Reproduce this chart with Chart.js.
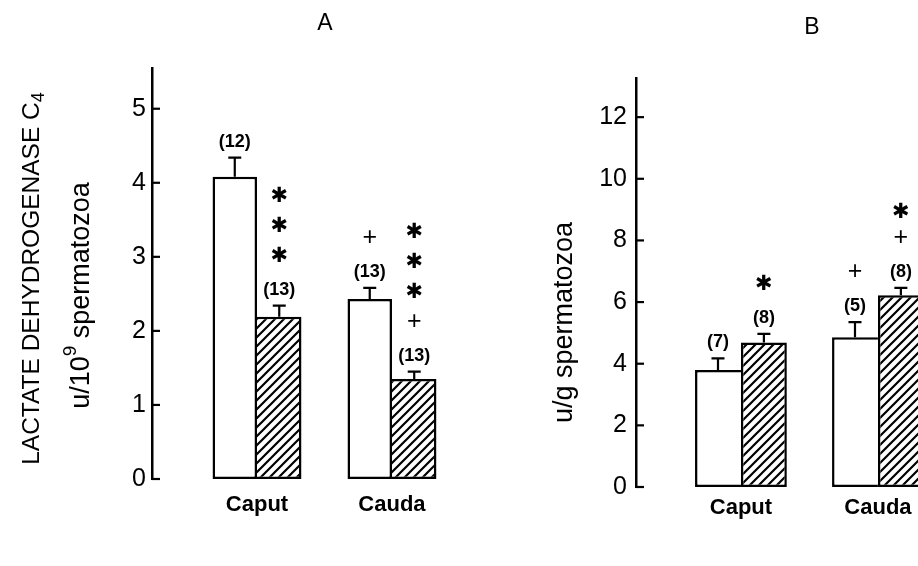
<!DOCTYPE html>
<html><head><meta charset="utf-8">
<script src="https://cdn.jsdelivr.net/npm/chart.js@4.4.1/dist/chart.umd.min.js"></script>
<style>
html,body{margin:0;padding:0;background:#fff;overflow:hidden;width:918px;height:566px;}
#wrap{position:relative;width:918px;height:566px;overflow:hidden;background:#fff;}
#cA{position:absolute;left:0;top:0;}
#cB{position:absolute;left:470px;top:0;}
</style></head><body>
<div id="wrap"><canvas id="cA" width="470" height="566"></canvas><canvas id="cB" width="490" height="566"></canvas></div>
<script>
// ---- data ----
const categories = ['Caput', 'Cauda'];
const categoryPos = [1, 2];

// Panel A: LDH-C4 per 10^9 spermatozoa
const ticksA = [0, 1, 2, 3, 4, 5];
const controlA = [4.08, 2.43];
const controlErrA = [0.26, 0.15];
const treatedA = [2.19, 1.35];
const treatedErrA = [0.15, 0.10];
const nControlA = ['(12)', '(13)'];
const nTreatedA = ['(13)', '(13)'];
const marksControlA = [[], ['+']];
const marksTreatedA = [['✱', '✱', '✱'], ['+', '✱', '✱', '✱']];
const titleA1 = [['LACTATE DEHYDROGENASE C', ''], ['4', 'sub']];
const titleA2 = [['u/10', ''], ['9', 'sup'], [' spermatozoa', '']];

// Panel B: u/g spermatozoa
const ticksB = [0, 2, 4, 6, 8, 10, 12];
const controlB = [3.80, 4.86];
const controlErrB = [0.37, 0.49];
const treatedB = [4.69, 6.22];
const treatedErrB = [0.28, 0.24];
const nControlB = ['(7)', '(5)'];
const nTreatedB = ['(8)', '(8)'];
const marksControlB = [[], ['+']];
const marksTreatedB = [['✱'], ['+', '✱']];
const titleB1 = [['u/g spermatozoa', '']];

// ---- helpers ----
function hatchPattern() {
  const s = 9;
  const c = document.createElement('canvas');
  c.width = s; c.height = s;
  const g = c.getContext('2d');
  g.fillStyle = '#fff'; g.fillRect(0, 0, s, s);
  g.strokeStyle = '#000'; g.lineWidth = 2.2;
  g.beginPath();
  g.moveTo(-1, s + 1); g.lineTo(s + 1, -1);
  g.moveTo(-2, 2); g.lineTo(2, -2);
  g.moveTo(s - 2, s + 2); g.lineTo(s + 2, s - 2);
  g.stroke();
  return g.createPattern(c, 'repeat');
}
const hatch = hatchPattern();

function drawRichVertical(ctx, parts, x, y, size) {
  ctx.save();
  ctx.translate(x, y);
  ctx.rotate(-Math.PI / 2);
  ctx.fillStyle = '#000';
  ctx.textBaseline = 'middle';
  ctx.textAlign = 'left';
  const fontFor = k => (k ? Math.round(size * 0.72) : size) + 'px "Liberation Sans"';
  let total = 0;
  parts.forEach(([t, k]) => { ctx.font = fontFor(k); total += ctx.measureText(t).width; });
  let cx = -total / 2;
  parts.forEach(([t, k]) => {
    ctx.font = fontFor(k);
    const dy = k === 'sub' ? size * 0.3 : (k === 'sup' ? -size * 0.4 : 0);
    ctx.fillText(t, cx, dy);
    cx += ctx.measureText(t).width;
  });
  ctx.restore();
}

const barPlugin = {
  id: 'barDecor',
  afterDatasetsDraw(chart, args, opts) {
    const ctx = chart.ctx, ys = chart.scales.y;
    chart.data.datasets.forEach((ds, di) => {
      const meta = chart.getDatasetMeta(di);
      meta.data.forEach((el, i) => {
        const v = ds.data[i].y, e = ds.errors[i];
        const yb = ys.getPixelForValue(v), yt = ys.getPixelForValue(v + e);
        ctx.save();
        ctx.strokeStyle = '#000'; ctx.lineWidth = 2.2;
        ctx.beginPath();
        ctx.moveTo(el.x, yb); ctx.lineTo(el.x, yt);
        ctx.moveTo(el.x - 6.5, yt); ctx.lineTo(el.x + 6.5, yt);
        ctx.stroke();
        ctx.fillStyle = '#000'; ctx.textAlign = 'center'; ctx.textBaseline = 'middle';
        let y = yt - opts.firstGap;
        ctx.font = 'bold 18px "Liberation Sans"';
        ctx.fillText(ds.counts[i], el.x, y);
        y -= opts.markGap0;
        ds.marks[i].forEach(m => {
          ctx.font = m === '+' ? '25px "Liberation Sans"' : '21px "DejaVu Sans"';
          ctx.fillText(m, el.x, m === '+' ? y - 1 : y);
          y -= opts.markGap;
        });
        ctx.restore();
      });
    });
  },
  afterDraw(chart, args, opts) {
    const ctx = chart.ctx, ys = chart.scales.y, area = chart.chartArea;
    ctx.save();
    ctx.strokeStyle = '#000'; ctx.lineWidth = 2.2;
    ys.ticks.forEach(t => {
      const y = ys.getPixelForValue(t.value);
      ctx.beginPath(); ctx.moveTo(area.left, y); ctx.lineTo(area.left + 8, y); ctx.stroke();
    });
    ctx.fillStyle = '#000'; ctx.font = '23px "Liberation Sans"';
    ctx.textAlign = 'center'; ctx.textBaseline = 'middle';
    ctx.fillText(opts.panel, opts.panelX, opts.panelY);
    ctx.restore();
    const mid = (area.top + area.bottom) / 2;
    opts.titles.forEach(t => drawRichVertical(ctx, t.parts, t.x, mid + t.dy, t.size));
  }
};

function makeChart(id, cfg) {
  const ctl = cfg.control, trt = cfg.treated;
  return new Chart(document.getElementById(id), {
    type: 'bar',
    data: {
      datasets: [
        {
          data: ctl.map((y, i) => ({ x: categoryPos[i], y })),
          errors: cfg.controlErr, counts: cfg.nControl, marks: cfg.marksControl,
          backgroundColor: '#fff', borderColor: '#000',
          borderWidth: c => ({ top: 2.5, left: 2.5, bottom: 2.5, right: ctl[c.dataIndex] >= trt[c.dataIndex] ? 2.5 : 0 }),
          borderSkipped: false,
          categoryPercentage: cfg.catPct, barPercentage: 1
        },
        {
          data: trt.map((y, i) => ({ x: categoryPos[i], y })),
          errors: cfg.treatedErr, counts: cfg.nTreated, marks: cfg.marksTreated,
          backgroundColor: hatch, borderColor: '#000',
          borderWidth: c => ({ top: 2.5, right: 2.5, bottom: 2.5, left: trt[c.dataIndex] > ctl[c.dataIndex] ? 2.5 : 0 }),
          borderSkipped: false,
          categoryPercentage: cfg.catPct, barPercentage: 1
        }
      ]
    },
    options: {
      responsive: false, animation: false, devicePixelRatio: 1,
      layout: { padding: { top: cfg.padTop, left: 0, right: 0, bottom: 0 } },
      plugins: {
        legend: { display: false }, tooltip: { enabled: false },
        barDecor: { firstGap: 16, markGap0: 33, markGap: cfg.markGap, panel: cfg.panel, panelX: cfg.panelX, panelY: cfg.panelY, titles: cfg.titles }
      },
      scales: {
        x: {
          type: 'linear', min: cfg.xMin, max: cfg.xMax, offset: false,
          grid: { display: false, drawTicks: false }, border: { display: false },
          afterBuildTicks: s => { s.ticks = categoryPos.map(v => ({ value: v })); },
          afterFit: s => { s.height = cfg.xHeight; },
          ticks: {
            callback: v => categories[categoryPos.indexOf(v)],
            font: { family: 'Liberation Sans', size: 22, weight: 'bold' }, color: '#000',
            padding: cfg.xPad, maxRotation: 0
          }
        },
        y: {
          min: 0, max: cfg.yMax,
          grid: { display: false, drawTicks: false },
          border: { display: true, color: '#000', width: 2.5 },
          afterBuildTicks: s => { s.ticks = cfg.ticks.map(v => ({ value: v })); },
          afterFit: s => { s.width = cfg.yWidth; },
          ticks: { font: { family: 'Liberation Sans', size: 25 }, color: '#000', padding: cfg.yPad },
          title: { display: false }
        }
      }
    },
    plugins: [barPlugin]
  });
}

makeChart('cA', {
  control: controlA, controlErr: controlErrA, treated: treatedA, treatedErr: treatedErrA,
  nControl: nControlA, nTreated: nTreatedA, marksControl: marksControlA, marksTreated: marksTreatedA,
  ticks: ticksA, yMax: 5.55, xMin: 0.222, xMax: 2.578, catPct: 0.659,
  padTop: 68, xHeight: 87, xPad: 13, yWidth: 152, yPad: 6,
  titles: [
    { parts: titleA1, x: 32, dy: 5, size: 24.5 },
    { parts: titleA2, x: 82, dy: 22, size: 27 }
  ],
  markGap: 30, panel: 'A', panelX: 325, panelY: 24
});

makeChart('cB', {
  control: controlB, controlErr: controlErrB, treated: treatedB, treatedErr: treatedErrB,
  nControl: nControlB, nTreated: nTreatedB, marksControl: marksControlB, marksTreated: marksTreatedB,
  ticks: ticksB, yMax: 13.27, xMin: 0.234, xMax: 2.599, catPct: 0.67,
  padTop: 78, xHeight: 79, xPad: 8, yWidth: 166, yPad: 9,
  titles: [
    { parts: titleB1, x: 95, dy: 40, size: 27 }
  ],
  markGap: 26, panel: 'B', panelX: 342, panelY: 28
});
</script>
</body></html>
